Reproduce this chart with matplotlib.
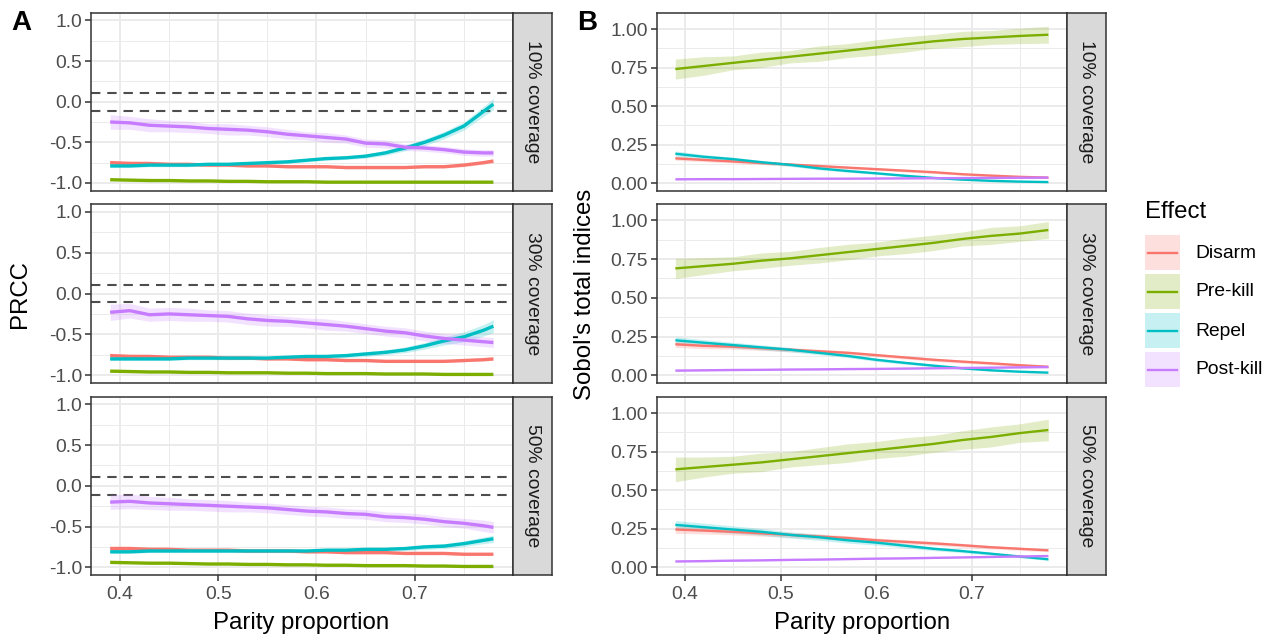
import matplotlib
matplotlib.use('Agg')
import matplotlib.pyplot as plt
from matplotlib.patches import Rectangle
from matplotlib.lines import Line2D

plt.rcParams['font.family'] = ['Liberation Sans', 'DejaVu Sans']

# ---------------- data ----------------
effects = ['Disarm', 'Pre-kill', 'Repel', 'Post-kill']
colors = ['#F8766D', '#7CAE00', '#00BFC4', '#C77CFF']
coverages = ['10% coverage', '30% coverage', '50% coverage']

x_prcc = [0.39, 0.41, 0.43, 0.45, 0.47, 0.49, 0.51, 0.53, 0.55, 0.57, 0.59,
          0.61, 0.63, 0.65, 0.67, 0.69, 0.71, 0.73, 0.75, 0.77, 0.78]
x_sobol = [0.39, 0.42, 0.45, 0.48, 0.51, 0.54, 0.57, 0.60, 0.63, 0.66, 0.69,
           0.72, 0.75, 0.78]

prcc_ticks = [-1.0, -0.5, 0.0, 0.5, 1.0]
prcc_ticklabels = ['-1.0', '-0.5', '0.0', '0.5', '1.0']
sobol_ticks = [0.0, 0.25, 0.5, 0.75, 1.0]
sobol_ticklabels = ['0.00', '0.25', '0.50', '0.75', '1.00']
x_ticks = [0.4, 0.5, 0.6, 0.7]
x_ticklabels = ['0.4', '0.5', '0.6', '0.7']
prcc_threshold = 0.11

# PRCC, 10% coverage
prcc10_disarm = [-0.75, -0.76, -0.76, -0.77, -0.77, -0.78, -0.78, -0.79, -0.79, -0.80, -0.80,
                 -0.80, -0.81, -0.81, -0.81, -0.81, -0.80, -0.80, -0.78, -0.75, -0.73]
prcc10_prekill = [-0.96, -0.965, -0.97, -0.97, -0.975, -0.975, -0.98, -0.98, -0.985, -0.985, -0.985,
                  -0.99, -0.99, -0.99, -0.99, -0.99, -0.99, -0.99, -0.99, -0.99, -0.99]
prcc10_repel = [-0.79, -0.79, -0.78, -0.78, -0.78, -0.77, -0.77, -0.76, -0.75, -0.74, -0.72,
                -0.70, -0.69, -0.67, -0.63, -0.57, -0.50, -0.41, -0.30, -0.12, -0.03]
prcc10_postkill = [-0.25, -0.26, -0.29, -0.30, -0.31, -0.33, -0.34, -0.35, -0.37, -0.40, -0.42,
                   -0.44, -0.46, -0.51, -0.52, -0.56, -0.57, -0.59, -0.62, -0.63, -0.63]
# PRCC, 30% coverage
prcc30_disarm = [-0.76, -0.77, -0.77, -0.78, -0.78, -0.78, -0.79, -0.79, -0.80, -0.80, -0.81,
                 -0.81, -0.82, -0.82, -0.83, -0.83, -0.83, -0.83, -0.82, -0.81, -0.80]
prcc30_prekill = [-0.95, -0.955, -0.96, -0.96, -0.965, -0.965, -0.97, -0.97, -0.97, -0.975, -0.975,
                  -0.98, -0.98, -0.98, -0.985, -0.985, -0.985, -0.99, -0.99, -0.99, -0.99]
prcc30_repel = [-0.80, -0.80, -0.80, -0.80, -0.79, -0.79, -0.79, -0.79, -0.79, -0.78, -0.77,
                -0.77, -0.76, -0.74, -0.72, -0.69, -0.64, -0.58, -0.53, -0.45, -0.40]
prcc30_postkill = [-0.23, -0.21, -0.26, -0.25, -0.26, -0.27, -0.28, -0.31, -0.33, -0.34, -0.36,
                   -0.38, -0.40, -0.43, -0.46, -0.48, -0.52, -0.55, -0.57, -0.59, -0.60]
# PRCC, 50% coverage
prcc50_disarm = [-0.77, -0.77, -0.78, -0.78, -0.79, -0.79, -0.79, -0.80, -0.80, -0.80, -0.81,
                 -0.81, -0.82, -0.82, -0.82, -0.83, -0.83, -0.83, -0.84, -0.84, -0.84]
prcc50_prekill = [-0.94, -0.945, -0.95, -0.95, -0.955, -0.96, -0.96, -0.965, -0.965, -0.97, -0.97,
                  -0.975, -0.975, -0.98, -0.98, -0.98, -0.985, -0.985, -0.99, -0.99, -0.99]
prcc50_repel = [-0.81, -0.81, -0.80, -0.80, -0.80, -0.80, -0.80, -0.80, -0.80, -0.80, -0.80,
                -0.79, -0.79, -0.78, -0.78, -0.77, -0.75, -0.74, -0.71, -0.67, -0.65]
prcc50_postkill = [-0.20, -0.19, -0.21, -0.22, -0.23, -0.24, -0.25, -0.26, -0.27, -0.29, -0.31,
                   -0.32, -0.34, -0.35, -0.38, -0.39, -0.41, -0.44, -0.46, -0.49, -0.51]

# PRCC ribbon half-widths
prcc10_disarm_hw = [0.03, 0.03, 0.025, 0.02, 0.02, 0.02, 0.02, 0.015, 0.015, 0.015, 0.015,
                    0.015, 0.015, 0.015, 0.015, 0.015, 0.015, 0.015, 0.02, 0.02, 0.025]
prcc10_repel_hw = [0.02, 0.02, 0.02, 0.02, 0.02, 0.02, 0.02, 0.02, 0.02, 0.02, 0.02,
                   0.02, 0.02, 0.025, 0.03, 0.035, 0.04, 0.045, 0.05, 0.06, 0.07]
prcc10_postkill_hw = [0.09, 0.08, 0.08, 0.07, 0.07, 0.06, 0.07, 0.06, 0.06, 0.06, 0.05,
                      0.06, 0.05, 0.05, 0.05, 0.04, 0.04, 0.04, 0.04, 0.04, 0.04]
prcc30_disarm_hw = [0.03, 0.03, 0.025, 0.02, 0.02, 0.02, 0.02, 0.015, 0.015, 0.015, 0.015,
                    0.015, 0.015, 0.015, 0.015, 0.015, 0.015, 0.015, 0.015, 0.015, 0.02]
prcc30_repel_hw = [0.02, 0.02, 0.02, 0.02, 0.02, 0.02, 0.02, 0.02, 0.02, 0.02, 0.02,
                   0.025, 0.025, 0.03, 0.03, 0.035, 0.04, 0.05, 0.06, 0.07, 0.08]
prcc30_postkill_hw = [0.10, 0.09, 0.08, 0.08, 0.08, 0.07, 0.07, 0.07, 0.07, 0.06, 0.06,
                      0.07, 0.06, 0.06, 0.06, 0.06, 0.06, 0.06, 0.06, 0.06, 0.06]
prcc50_disarm_hw = [0.03, 0.03, 0.03, 0.025, 0.02, 0.02, 0.02, 0.015, 0.015, 0.015, 0.015,
                    0.015, 0.015, 0.015, 0.015, 0.015, 0.015, 0.015, 0.015, 0.015, 0.015]
prcc50_repel_hw = [0.02, 0.02, 0.02, 0.02, 0.02, 0.02, 0.02, 0.02, 0.02, 0.02, 0.02,
                   0.02, 0.02, 0.02, 0.025, 0.025, 0.03, 0.03, 0.035, 0.04, 0.045]
prcc50_postkill_hw = [0.09, 0.09, 0.08, 0.08, 0.07, 0.07, 0.07, 0.06, 0.06, 0.06, 0.06,
                      0.06, 0.06, 0.06, 0.06, 0.06, 0.06, 0.06, 0.06, 0.07, 0.07]
prekill_prcc_hw = [0.008] * 21

# Sobol total indices, 10% coverage
sobol10_disarm = [0.16, 0.15, 0.14, 0.13, 0.12, 0.11, 0.10, 0.09, 0.08, 0.07, 0.057, 0.048, 0.04, 0.035]
sobol10_prekill = [0.74, 0.76, 0.78, 0.80, 0.82, 0.84, 0.86, 0.88, 0.90, 0.92, 0.935, 0.945, 0.955, 0.963]
sobol10_repel = [0.19, 0.17, 0.155, 0.135, 0.118, 0.095, 0.078, 0.063, 0.047, 0.033, 0.022, 0.014, 0.009, 0.006]
sobol10_postkill = [0.024, 0.025, 0.025, 0.026, 0.027, 0.028, 0.028, 0.029, 0.030, 0.031, 0.032, 0.033, 0.034, 0.035]
# Sobol, 30% coverage
sobol30_disarm = [0.20, 0.19, 0.185, 0.175, 0.165, 0.155, 0.145, 0.13, 0.115, 0.10, 0.088, 0.077, 0.065, 0.055]
sobol30_prekill = [0.69, 0.705, 0.72, 0.74, 0.755, 0.775, 0.795, 0.815, 0.835, 0.855, 0.88, 0.90, 0.915, 0.938]
sobol30_repel = [0.226, 0.21, 0.195, 0.18, 0.165, 0.145, 0.125, 0.10, 0.08, 0.062, 0.045, 0.032, 0.023, 0.017]
sobol30_postkill = [0.030, 0.032, 0.034, 0.035, 0.037, 0.038, 0.040, 0.041, 0.043, 0.045, 0.047, 0.049, 0.051, 0.053]
# Sobol, 50% coverage
sobol50_disarm = [0.245, 0.238, 0.23, 0.22, 0.21, 0.20, 0.19, 0.175, 0.165, 0.155, 0.143, 0.13, 0.12, 0.11]
sobol50_prekill = [0.635, 0.65, 0.665, 0.68, 0.70, 0.72, 0.74, 0.76, 0.78, 0.80, 0.825, 0.845, 0.87, 0.89]
sobol50_repel = [0.275, 0.26, 0.245, 0.23, 0.21, 0.195, 0.175, 0.16, 0.14, 0.12, 0.105, 0.088, 0.07, 0.052]
sobol50_postkill = [0.038, 0.040, 0.043, 0.045, 0.048, 0.050, 0.053, 0.056, 0.058, 0.061, 0.064, 0.067, 0.070, 0.073]

# Sobol ribbon half-widths
sobol10_prekill_hw = [0.065, 0.06, 0.045, 0.05, 0.04, 0.05, 0.045, 0.05, 0.05, 0.045, 0.05, 0.045, 0.05, 0.055]
sobol30_prekill_hw = [0.065, 0.055, 0.045, 0.05, 0.045, 0.05, 0.05, 0.045, 0.05, 0.05, 0.045, 0.055, 0.05, 0.055]
sobol50_prekill_hw = [0.08, 0.065, 0.055, 0.06, 0.05, 0.055, 0.06, 0.055, 0.06, 0.055, 0.06, 0.065, 0.06, 0.07]
sobol10_disarm_hw = [0.012, 0.012, 0.01, 0.01, 0.01, 0.01, 0.008, 0.008, 0.008, 0.008, 0.006, 0.006, 0.006, 0.006]
sobol30_disarm_hw = [0.02, 0.018, 0.016, 0.015, 0.014, 0.013, 0.012, 0.011, 0.01, 0.01, 0.01, 0.009, 0.008, 0.008]
sobol50_disarm_hw = [0.025, 0.022, 0.02, 0.018, 0.017, 0.016, 0.015, 0.015, 0.014, 0.013, 0.012, 0.011, 0.01, 0.01]
sobol10_repel_hw = [0.018, 0.015, 0.013, 0.012, 0.01, 0.009, 0.008, 0.007, 0.006, 0.005, 0.004, 0.004, 0.003, 0.003]
sobol30_repel_hw = [0.022, 0.02, 0.018, 0.016, 0.014, 0.012, 0.011, 0.01, 0.009, 0.008, 0.007, 0.006, 0.005, 0.005]
sobol50_repel_hw = [0.028, 0.026, 0.024, 0.022, 0.02, 0.02, 0.018, 0.016, 0.014, 0.012, 0.01, 0.009, 0.008, 0.008]
postkill_sobol_hw = [0.004] * 14

prcc_rows = [
    ([prcc10_disarm, prcc10_prekill, prcc10_repel, prcc10_postkill],
     [prcc10_disarm_hw, prekill_prcc_hw, prcc10_repel_hw, prcc10_postkill_hw]),
    ([prcc30_disarm, prcc30_prekill, prcc30_repel, prcc30_postkill],
     [prcc30_disarm_hw, prekill_prcc_hw, prcc30_repel_hw, prcc30_postkill_hw]),
    ([prcc50_disarm, prcc50_prekill, prcc50_repel, prcc50_postkill],
     [prcc50_disarm_hw, prekill_prcc_hw, prcc50_repel_hw, prcc50_postkill_hw]),
]
sobol_rows = [
    ([sobol10_disarm, sobol10_prekill, sobol10_repel, sobol10_postkill],
     [sobol10_disarm_hw, sobol10_prekill_hw, sobol10_repel_hw, postkill_sobol_hw]),
    ([sobol30_disarm, sobol30_prekill, sobol30_repel, sobol30_postkill],
     [sobol30_disarm_hw, sobol30_prekill_hw, sobol30_repel_hw, postkill_sobol_hw]),
    ([sobol50_disarm, sobol50_prekill, sobol50_repel, sobol50_postkill],
     [sobol50_disarm_hw, sobol50_prekill_hw, sobol50_repel_hw, postkill_sobol_hw]),
]

# ---------------- layout ----------------
W, H = 1272, 639
fig = plt.figure(figsize=(W / 100, H / 100), dpi=100)


def rect(l, t, r, b):
    return [l / W, 1 - b / H, (r - l) / W, (b - t) / H]


rows_px = [(12.7, 190.7), (204.0, 383.0), (396.7, 575.0)]
colA = (91.0, 512.5)
colB = (656.7, 1067.0)
strip_w = 39.0

TICK_FS = 13.9
TITLE_FS = 17.3
GRID = '#EBEBEB'
DARK = '#333333'


def style_ax(ax, ylim, yticks, yticklabels, yminor, bottom):
    ax.set_xlim(0.3705, 0.7995)
    ax.set_ylim(*ylim)
    ax.set_xticks(x_ticks)
    ax.set_xticks([0.45, 0.55, 0.65, 0.75], minor=True)
    ax.set_yticks(yticks)
    ax.set_yticklabels(yticklabels)
    ax.set_yticks(yminor, minor=True)
    ax.grid(which='major', color=GRID, lw=1.4)
    ax.grid(which='minor', color=GRID, lw=0.7)
    ax.set_axisbelow(True)
    for s in ax.spines.values():
        s.set_color(DARK)
        s.set_linewidth(1.1)
        s.set_zorder(10)
    ax.tick_params(which='major', length=4, width=1.1, color=DARK,
                   labelsize=TICK_FS, labelcolor='#4D4D4D', pad=2.5)
    ax.tick_params(which='minor', length=0)
    if bottom:
        ax.set_xticklabels(x_ticklabels)
        ax.tick_params(axis='x', pad=4)
    else:
        ax.tick_params(axis='x', which='major', length=0, labelbottom=False)


def add_strip(xr, t, b, label):
    sax = fig.add_axes(rect(xr, t, xr + strip_w, b))
    sax.set_facecolor('#D9D9D9')
    sax.set_xticks([])
    sax.set_yticks([])
    for s in sax.spines.values():
        s.set_color(DARK)
        s.set_linewidth(1.1)
    sax.text(0.5, 0.5, label, rotation=-90, ha='center', va='center',
             fontsize=TICK_FS, color='#1A1A1A', transform=sax.transAxes)


for i, (t, b) in enumerate(rows_px):
    # Panel A: PRCC
    ax = fig.add_axes(rect(colA[0], t, colA[1], b))
    style_ax(ax, (-1.095, 1.095), prcc_ticks, prcc_ticklabels,
             [-0.75, -0.25, 0.25, 0.75], i == 2)
    ax.axhline(prcc_threshold, color='#4D4D4D', lw=1.5, ls=(0, (4.5, 3.3)), zorder=2)
    ax.axhline(-prcc_threshold, color='#4D4D4D', lw=1.5, ls=(0, (4.5, 3.3)), zorder=2)
    means, hws = prcc_rows[i]
    for m, hw, c in zip(means, hws, colors):
        lo = [a - h for a, h in zip(m, hw)]
        hi = [a + h for a, h in zip(m, hw)]
        ax.fill_between(x_prcc, lo, hi, color=c, alpha=0.22, lw=0, zorder=3)
    for m, c in zip(means, colors):
        ax.plot(x_prcc, m, color=c, lw=2.4, zorder=4, solid_capstyle='butt')
    add_strip(colA[1], t, b, coverages[i])

    # Panel B: Sobol
    bx = fig.add_axes(rect(colB[0], t, colB[1], b))
    style_ax(bx, (-0.05, 1.106), sobol_ticks, sobol_ticklabels,
             [0.125, 0.375, 0.625, 0.875], i == 2)
    means, hws = sobol_rows[i]
    for m, hw, c in zip(means, hws, colors):
        lo = [a - h for a, h in zip(m, hw)]
        hi = [a + h for a, h in zip(m, hw)]
        bx.fill_between(x_sobol, lo, hi, color=c, alpha=0.22, lw=0, zorder=3)
    for m, c in zip(means, colors):
        bx.plot(x_sobol, m, color=c, lw=1.7, zorder=4, solid_capstyle='butt')
    add_strip(colB[1], t, b, coverages[i])

# axis titles and panel tags
fig.text(301.5 / W, 1 - 629 / H, 'Parity proportion', ha='center', va='baseline', fontsize=TITLE_FS)
fig.text(862 / W, 1 - 629 / H, 'Parity proportion', ha='center', va='baseline', fontsize=TITLE_FS)
fig.text(20 / W, 1 - 294 / H, 'PRCC', ha='center', va='center', rotation=90, fontsize=TITLE_FS)
fig.text(585 / W, 1 - 294 / H, "Sobol's total indices", ha='center', va='center', rotation=90, fontsize=TITLE_FS)
fig.text(21 / W, 1 - 23 / H, 'A', ha='center', va='center', fontsize=20, fontweight='bold')
fig.text(587 / W, 1 - 23 / H, 'B', ha='center', va='center', fontsize=20, fontweight='bold')

# legend
lax = fig.add_axes([0, 0, 1, 1])
lax.set_xlim(0, W)
lax.set_ylim(H, 0)
lax.axis('off')
lax.patch.set_alpha(0)
lax.text(1145, 212, 'Effect', ha='left', va='center', fontsize=TITLE_FS)
key_tops = [235, 274, 313, 352]
for name, c, kt in zip(effects, colors, key_tops):
    lax.add_patch(Rectangle((1145, kt), 35, 35, facecolor=c, alpha=0.22, lw=0))
    lax.add_line(Line2D([1148, 1177], [kt + 17.5, kt + 17.5], color=c, lw=1.7))
    lax.text(1195, kt + 18, name, ha='left', va='center', fontsize=TICK_FS)

fig.savefig('out.png', dpi=100)
